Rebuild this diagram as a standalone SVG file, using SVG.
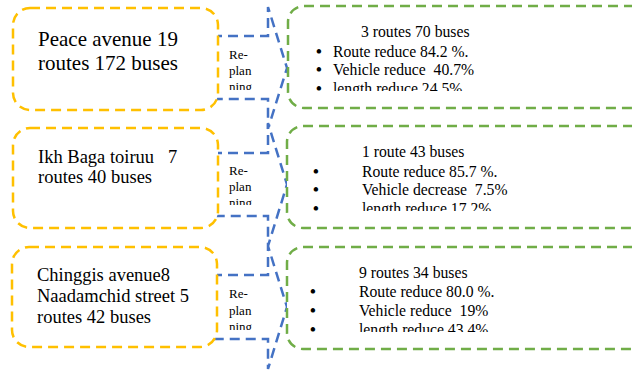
<svg xmlns="http://www.w3.org/2000/svg" width="632" height="371" viewBox="0 0 632 371">
<style>
.yb{fill:#fff;stroke:#FFC000;stroke-width:2.5;stroke-dasharray:10 6}
.gb{fill:#fff;stroke:#70AD47;stroke-width:2.5;stroke-dasharray:10 6}
.ar{fill:#fff;stroke:#4472C4;stroke-width:2.5;stroke-dasharray:10 6;stroke-linejoin:miter}
text{font-family:"Liberation Serif","Times New Roman",serif;fill:#000;white-space:pre}
.t1{font-size:21px}
.t2{font-size:18.5px}
.tb{font-size:13px}
.tg{font-size:15.7px}
.bu{font-size:16.5px;font-weight:bold}
</style>
<defs>
<clipPath id="cb1"><rect x="220" y="36" width="50" height="54"/></clipPath>
<clipPath id="cb2"><rect x="220" y="153" width="50" height="52"/></clipPath>
<clipPath id="cb3"><rect x="220" y="275" width="50" height="55"/></clipPath>
<clipPath id="cg1"><rect x="290" y="10" width="340" height="81"/></clipPath>
<clipPath id="cg2"><rect x="290" y="130" width="340" height="81"/></clipPath>
<clipPath id="cg3"><rect x="290" y="250" width="340" height="82"/></clipPath>
</defs>
<g id="connectors">
<path class="ar" d="M212,36 H268 V7 L287,68 L268,129 V99 H212 Z"/>
<path class="ar" d="M212,153 H268 V123 L287,184.5 L268,246 V216 H212 Z"/>
<path class="ar" d="M212,275 H268 V246 L287,307 L268,369 V339 H212 Z"/>
<g clip-path="url(#cb1)" class="tb"><text x="229" y="59">Re-</text><text x="229" y="75">plan</text><text x="229" y="91">ning</text></g>
<g clip-path="url(#cb2)" class="tb"><text x="229" y="175">Re-</text><text x="229" y="191">plan</text><text x="229" y="207">ning</text></g>
<g clip-path="url(#cb3)" class="tb"><text x="229" y="298">Re-</text><text x="229" y="315">plan</text><text x="229" y="331">ning</text></g>
</g>
<g id="peace">
<rect class="yb" x="13" y="8" width="205" height="102" rx="17"/>
<text class="t1" x="38" y="46">Peace avenue 19</text>
<text class="t1" x="38" y="70">routes 172 buses</text>
</g>
<g id="ikhbaga">
<rect class="yb" x="13" y="128" width="205" height="100" rx="17"/>
<text class="t2" x="38" y="163">Ikh Baga toiruu   7</text>
<text class="t2" x="38" y="183">routes 40 buses</text>
</g>
<g id="chinggis">
<rect class="yb" x="12" y="247" width="205" height="100" rx="17"/>
<text class="t2" x="37" y="281">Chinggis avenue8</text>
<text class="t2" x="37" y="302">Naadamchid street 5</text>
<text class="t2" x="37" y="323">routes 42 buses</text>
</g>
<g id="result1">
<rect class="gb" x="288" y="6" width="360" height="102" rx="16"/>
<g clip-path="url(#cg1)" class="tg">
<text x="361" y="37">3 routes 70 buses</text>
<text class="bu" x="316" y="57">•</text><text x="333" y="57">Route reduce 84.2 %.</text>
<text class="bu" x="316" y="75">•</text><text x="333" y="75">Vehicle reduce  40.7%</text>
<text class="bu" x="316" y="94">•</text><text x="333" y="94">length reduce 24.5%</text>
</g>
</g>
<g id="result2">
<rect class="gb" x="287" y="126" width="360" height="102" rx="16"/>
<g clip-path="url(#cg2)" class="tg">
<text x="362" y="157">1 route 43 buses</text>
<text class="bu" x="313" y="177">•</text><text x="362" y="177">Route reduce 85.7 %.</text>
<text class="bu" x="313" y="195">•</text><text x="362" y="195">Vehicle decrease  7.5%</text>
<text class="bu" x="313" y="214">•</text><text x="362" y="214">length reduce 17.2%</text>
</g>
</g>
<g id="result3">
<rect class="gb" x="287" y="247" width="360" height="102" rx="16"/>
<g clip-path="url(#cg3)" class="tg">
<text x="359" y="278">9 routes 34 buses</text>
<text class="bu" x="310" y="297">•</text><text x="359" y="297">Route reduce 80.0 %.</text>
<text class="bu" x="310" y="316">•</text><text x="359" y="316">Vehicle reduce  19%</text>
<text class="bu" x="310" y="335">•</text><text x="359" y="335">length reduce 43.4%</text>
</g>
</g>
</svg>
